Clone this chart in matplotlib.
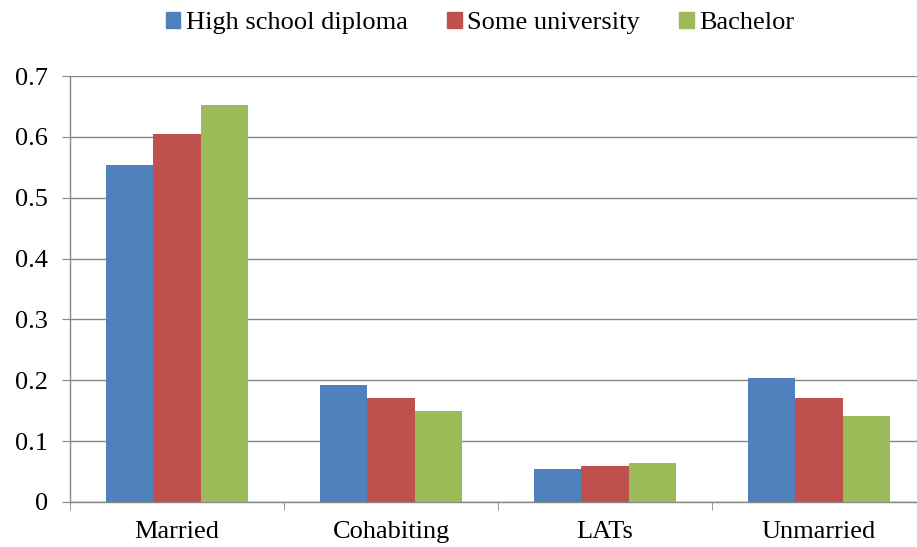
import numpy as np
import matplotlib.pyplot as plt
from matplotlib.patches import Patch

categories = ["Married", "Cohabiting", "LATs", "Unmarried"]
series_names = ["High school diploma", "Some university", "Bachelor"]
high_school = [0.554, 0.192, 0.054, 0.204]
some_university = [0.605, 0.171, 0.059, 0.171]
bachelor = [0.652, 0.150, 0.064, 0.141]
y_ticks = [0, 0.1, 0.2, 0.3, 0.4, 0.5, 0.6, 0.7]

colors = ["#4F81BD", "#C0504D", "#9BBB59"]
grid_color = "#868686"

plt.rcParams["font.family"] = ["Liberation Serif", "DejaVu Serif"]

fig = plt.figure(figsize=(9.17, 5.47), dpi=100)
ax = fig.add_axes([70 / 917, 1 - 502 / 547, 856 / 917, 426 / 547])

x = np.arange(len(categories))
width = 0.222
for i, (vals, name) in enumerate(zip([high_school, some_university, bachelor], series_names)):
    ax.bar(x + (i - 1) * width, vals, width, color=colors[i], label=name, zorder=3)

ax.set_xlim(-0.5, len(categories) - 0.5)
ax.set_ylim(0, 0.7)
ax.set_yticks(y_ticks)
ax.set_yticklabels([f"{t:g}" for t in y_ticks], fontsize=19)
ax.yaxis.grid(True, color=grid_color, linewidth=1, zorder=0)

ax.set_xticks(x)
ax.set_xticklabels(categories, fontsize=19)
ax.set_xticks(np.arange(len(categories) + 1) - 0.5, minor=True)
ax.tick_params(axis="x", which="major", length=0, pad=14)
ax.tick_params(axis="x", which="minor", length=6, color=grid_color, direction="out")
ax.tick_params(axis="y", length=6, color=grid_color, direction="out", pad=10)

for side in ["top", "right"]:
    ax.spines[side].set_visible(False)
for side in ["left", "bottom"]:
    ax.spines[side].set_color(grid_color)
    ax.spines[side].set_linewidth(1)

handles = [Patch(color=c, label=n) for c, n in zip(colors, series_names)]
fig.legend(handles=handles, loc="center", bbox_to_anchor=(480 / 917, 1 - 23 / 547),
           ncol=3, frameon=False, fontsize=19, handlelength=0.55, handleheight=0.55,
           handletextpad=0.2, columnspacing=1.5)

fig.savefig("out.png", dpi=100)
